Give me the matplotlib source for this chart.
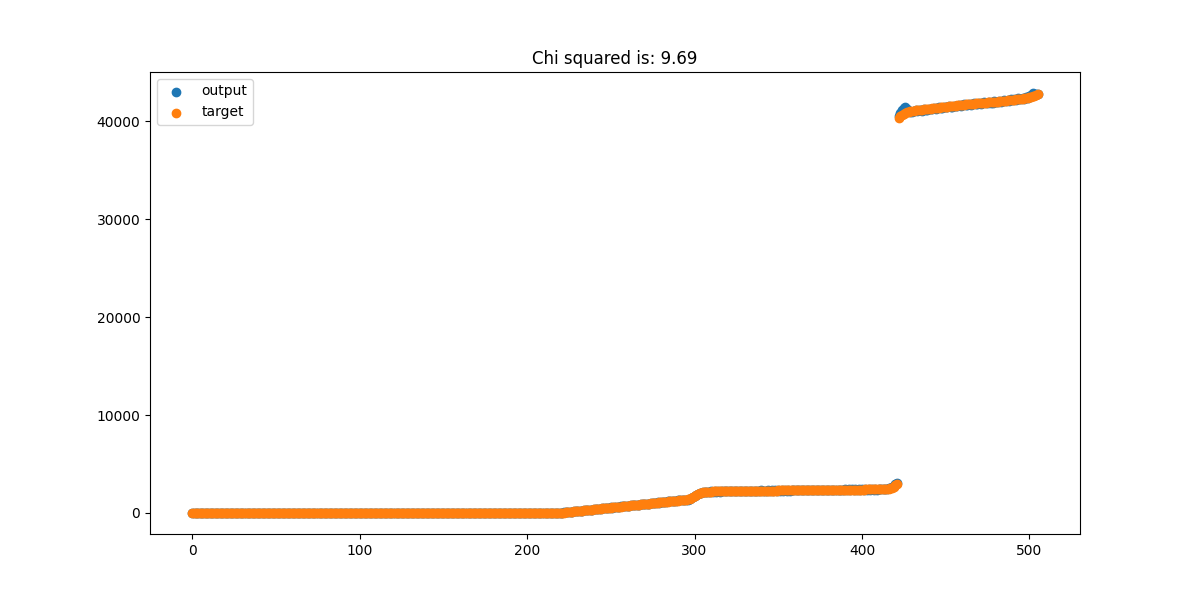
import numpy as np
import matplotlib
matplotlib.use("Agg")
import matplotlib.pyplot as plt

title_text = "Chi squared is: 9.69"
series_names = ["output", "target"]

# flat start (indices 0..219)
zeros_start = [0] * 220

# indices 220..421
target_low = [
    15, 30, 50, 70, 85, 105, 120, 140, 160, 175,
    195, 210, 230, 250, 265, 285, 300, 320, 340, 355,
    375, 390, 410, 430, 445, 465, 480, 500, 520, 535,
    555, 570, 590, 610, 625, 645, 660, 680, 700, 715,
    735, 750, 770, 790, 805, 825, 840, 860, 880, 895,
    915, 930, 950, 970, 985, 1005, 1020, 1040, 1060, 1075,
    1095, 1110, 1130, 1150, 1165, 1185, 1200, 1220, 1240, 1255,
    1275, 1290, 1310, 1330, 1350, 1375, 1410, 1470, 1550, 1640,
    1740, 1840, 1930, 2000, 2060, 2100, 2130, 2150, 2170, 2185,
    2195, 2200, 2205, 2205, 2210, 2210, 2215, 2215, 2220, 2220,
    2225, 2225, 2230, 2230, 2235, 2235, 2240, 2240, 2245, 2245,
    2250, 2250, 2255, 2255, 2260, 2260, 2265, 2265, 2270, 2270,
    2275, 2275, 2280, 2280, 2285, 2285, 2290, 2290, 2295, 2295,
    2300, 2300, 2305, 2305, 2310, 2310, 2315, 2315, 2320, 2320,
    2325, 2325, 2330, 2330, 2335, 2335, 2340, 2340, 2345, 2345,
    2350, 2350, 2350, 2355, 2355, 2355, 2360, 2360, 2360, 2365,
    2365, 2365, 2370, 2370, 2370, 2375, 2375, 2375, 2380, 2380,
    2380, 2385, 2385, 2385, 2390, 2390, 2390, 2395, 2395, 2400,
    2400, 2400, 2405, 2405, 2410, 2410, 2415, 2415, 2420, 2420,
    2425, 2430, 2435, 2440, 2450, 2465, 2490, 2530, 2600, 2700,
    2830, 3000,
]

output_low = [
    25, 20, 60, 65, 95, 100, 135, 130, 170, 165,
    210, 200, 240, 245, 280, 275, 315, 305, 350, 345,
    390, 375, 425, 420, 455, 460, 490, 485, 535, 520,
    565, 560, 600, 600, 635, 630, 670, 670, 715, 700,
    745, 740, 785, 780, 815, 815, 850, 850, 895, 880,
    925, 920, 965, 960, 995, 995, 1030, 1030, 1075, 1060,
    1105, 1100, 1145, 1135, 1175, 1175, 1215, 1205, 1255, 1240,
    1285, 1280, 1320, 1315, 1320, 1340, 1370, 1420, 1500, 1600,
    1710, 1820, 1945, 2010, 2070, 2110, 2145, 2140, 2185, 2170,
    2210, 2175, 2230, 2190, 2225, 2195, 2240, 2200, 2235, 2200,
    2250, 2205, 2245, 2215, 2260, 2210, 2255, 2225, 2270, 2220,
    2265, 2235, 2280, 2230, 2275, 2245, 2290, 2240, 2285, 2255,
    2300, 2250, 2295, 2265, 2310, 2260, 2305, 2275, 2320, 2270,
    2315, 2285, 2330, 2280, 2325, 2295, 2340, 2290, 2335, 2300,
    2345, 2300, 2350, 2310, 2355, 2305, 2360, 2320, 2365, 2315,
    2370, 2325, 2375, 2330, 2380, 2325, 2380, 2340, 2385, 2335,
    2390, 2345, 2390, 2350, 2395, 2345, 2400, 2355, 2400, 2360,
    2405, 2360, 2410, 2365, 2410, 2370, 2415, 2370, 2420, 2380,
    2420, 2380, 2425, 2385, 2430, 2390, 2430, 2395, 2440, 2400,
    2440, 2410, 2460, 2420, 2480, 2470, 2530, 2580, 2680, 2800,
    2930, 3060,
]

# indices 422..505
target_high = [
    40350, 40550, 40680, 40800, 40880, 40950, 41000, 41050,
    41090, 41110, 41130, 41150, 41170, 41190, 41210, 41230, 41250, 41270,
    41290, 41310, 41330, 41350, 41370, 41390, 41410, 41430, 41450, 41470,
    41490, 41510, 41530, 41550, 41570, 41590, 41610, 41630, 41650, 41670,
    41690, 41710, 41730, 41750, 41770, 41785, 41800, 41815, 41830, 41845,
    41860, 41875, 41890, 41905, 41920, 41935, 41950, 41965, 41980, 41995,
    42010, 42030, 42050, 42070, 42090, 42110, 42130, 42150, 42170, 42190,
    42210, 42230, 42250, 42270, 42290, 42310, 42335, 42360, 42390, 42420,
    42460, 42510, 42570, 42640, 42720, 42790,
]

output_high = [
    40550, 40900, 41200, 41400, 41450, 41300, 41100, 40950,
    41000, 41050, 41150, 41080, 41200, 41120, 41100, 41260, 41170, 41200,
    41310, 41230, 41260, 41380, 41290, 41330, 41450, 41360, 41390, 41510,
    41420, 41470, 41570, 41460, 41510, 41620, 41530, 41570, 41680, 41590,
    41630, 41740, 41650, 41690, 41810, 41710, 41740, 41850, 41750, 41790,
    41900, 41810, 41830, 41950, 41850, 41890, 42010, 41890, 41920, 42040,
    41950, 41990, 42110, 42010, 42040, 42160, 42070, 42210, 42090, 42250,
    42140, 42300, 42190, 42350, 42240, 42290, 42400, 42310, 42450, 42380,
    42550, 42650, 42900, 42720, 42780, 42830,
]

target = np.array(zeros_start + target_low + target_high, dtype=float)
output = np.array(zeros_start + output_low + output_high, dtype=float)
x = np.arange(len(target))

fig, ax = plt.subplots(figsize=(12, 6), dpi=100)
ax.scatter(x, output, label=series_names[0])
ax.scatter(x, target, label=series_names[1])
ax.set_title(title_text)
ax.legend(loc="upper left")
fig.savefig("out.png", dpi=100)
